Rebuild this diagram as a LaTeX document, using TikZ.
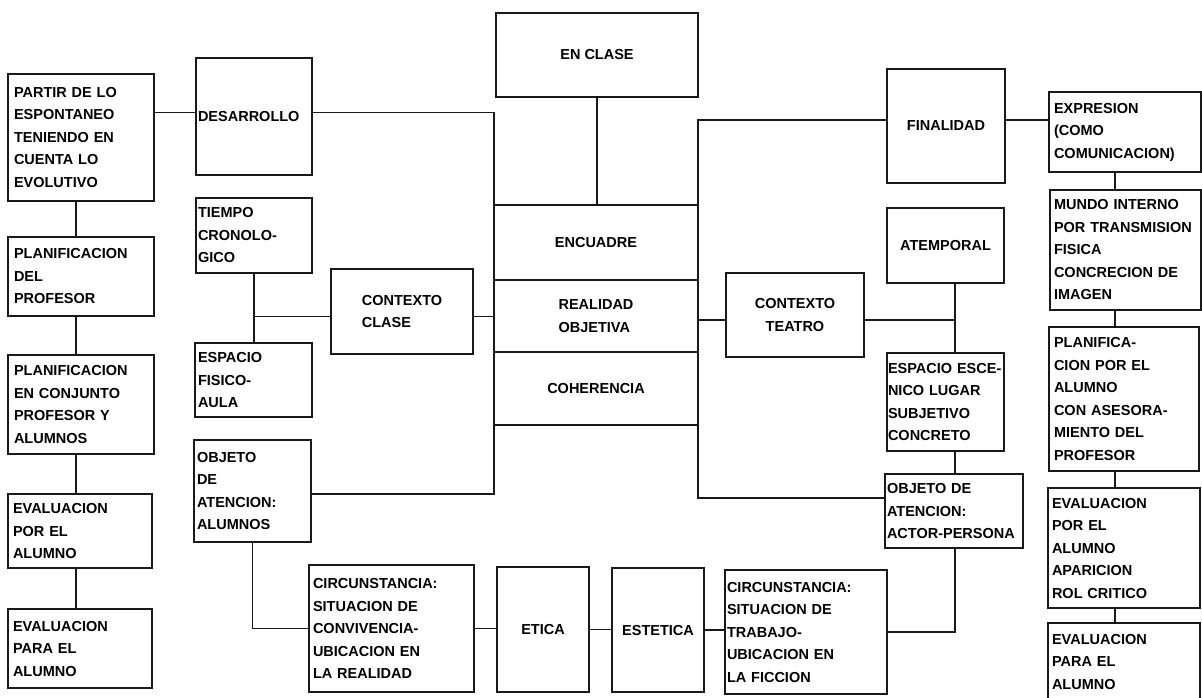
\documentclass[tikz,border=0pt]{standalone}
\usepackage{fontspec}
\setmainfont{Liberation Sans}
\tikzset{
  caja/.style={draw=black!90, line width=1.8pt, inner sep=0pt, outer sep=0pt,
    text=black, font=\bfseries\fontsize{14.5}{22.5}\selectfont},
  linea/.style={draw=black!90, line width=1.8pt}
}

\begin{document}
\begin{tikzpicture}[x=1pt,y=-1pt]
  \useasboundingbox (0,0) rectangle (1202,697);
  % boxes with text set from the left edge
  \foreach \nombre/\xa/\ya/\xb/\yb/\margen/\texto in {
      partir/8/74/154/201/6/{PARTIR DE LO\\ESPONTANEO\\TENIENDO EN\\CUENTA LO\\EVOLUTIVO},
      planprof/8/237/154/316/6/{PLANIFICACION\\DEL\\PROFESOR},
      planconj/8/355/154/454/6/{PLANIFICACION\\EN CONJUNTO\\PROFESOR Y\\ALUMNOS},
      evalpor/8/494/152/568/5/{EVALUACION\\POR EL\\ALUMNO},
      evalpara/8/609/152/688/5/{EVALUACION\\PARA EL\\ALUMNO},
      desarrollo/196/58/312/175/2/{DESARROLLO},
      tiempo/196/198/312/273/2/{TIEMPO\\CRONOLO-\\GICO},
      espfis/195/343/312/417/3/{ESPACIO\\FISICO-\\AULA},
      objalu/194/440/311/542/3/{OBJETO\\DE\\ATENCION:\\ALUMNOS},
      circonv/309/565/474/692/4/{CIRCUNSTANCIA:\\SITUACION DE\\CONVIVENCIA-\\UBICACION EN\\LA REALIDAD},
      trabajo/725/570/887/694/2/{CIRCUNSTANCIA:\\SITUACION DE\\TRABAJO-\\UBICACION EN\\LA FICCION},
      espesc/887/353/1004/451/1/{ESPACIO ESCE-\\NICO LUGAR\\SUBJETIVO\\CONCRETO},
      objactor/885/474/1023/548/2/{OBJETO DE\\ATENCION:\\ACTOR-PERSONA},
      expresion/1049/92/1201/172/5/{EXPRESION\\(COMO\\COMUNICACION)},
      mundo/1050/190/1201/310/4/{MUNDO INTERNO\\POR TRANSMISION\\FISICA\\CONCRECION DE\\IMAGEN},
      planalu/1049/327/1199/471/5/{PLANIFICA-\\CION POR EL\\ALUMNO\\CON ASESORA-\\MIENTO DEL\\PROFESOR},
      evalpor2/1048/488/1200/608/4/{EVALUACION\\POR EL\\ALUMNO\\APARICION\\ROL CRITICO},
      evalpara2/1048/623/1200/700/4/{EVALUACION\\PARA EL\\ALUMNO}}
  {
    \pgfmathsetmacro{\ancho}{\xb-\xa}
    \pgfmathsetmacro{\alto}{\yb-\ya}
    \pgfmathsetmacro{\anchotexto}{\xb-\xa-2*\margen}
    \node[caja, inner xsep=\margen pt, minimum width=\ancho pt, minimum height=\alto pt,
      text width=\anchotexto pt, align=left]
      (\nombre) at ({(\xa+\xb)/2},{(\ya+\yb)/2}) {\texto};
  }
  % boxes with the text in the middle
  \foreach \nombre/\xa/\ya/\xb/\yb/\alin/\texto in {
      enclase/496/13/698/97/center/{EN CLASE},
      encuadre/494/205/698/280/center/{ENCUADRE},
      realidad/494/280/698/352/left/{REALIDAD\\OBJETIVA},
      coherencia/494/352/698/425/center/{COHERENCIA},
      ctxclase/331/269/473/354/left/{CONTEXTO\\CLASE},
      ctxteatro/726/273/864/357/center/{CONTEXTO\\TEATRO},
      finalidad/887/69/1005/183/center/{FINALIDAD},
      atemporal/887/208/1004/283/center/{ATEMPORAL},
      etica/497/567/589/692/center/{ETICA},
      estetica/612/568/704/692/center/{ESTETICA}}
  {
    \pgfmathsetmacro{\ancho}{\xb-\xa}
    \pgfmathsetmacro{\alto}{\yb-\ya}
    \node[caja, minimum width=\ancho pt, minimum height=\alto pt, align=\alin]
      (\nombre) at ({(\xa+\xb)/2},{(\ya+\yb)/2}) {\texto};
  }
  \coordinate (ejeizq) at (76,0);
  \coordinate (ejeteatro) at (955,0);
  \coordinate (ejeder) at (1115,0);
  % left column
  \foreach \a/\b in {partir/planprof, planprof/planconj, planconj/evalpor, evalpor/evalpara}
    \draw[linea] (\a.south -| ejeizq) -- (\b.north -| ejeizq);
  \draw[linea] ([yshift=4pt]desarrollo.west) -- ([yshift=4pt]desarrollo.west -| partir.east);
  % class side
  \draw[linea] ([yshift=4pt]desarrollo.east) -| (coherencia.south west) |- ([yshift=-3pt]objalu.east);
  \draw[linea] (tiempo.south) -- (tiempo.south |- espfis.north);
  \draw[linea] ([yshift=-5pt]ctxclase.west) -- ([yshift=-5pt]ctxclase.west -| tiempo.south);
  \draw[linea] ([yshift=-5pt]ctxclase.east) -- ([yshift=-5pt]ctxclase.east -| realidad.west);
  \draw[linea] (enclase.south) -- (enclase.south |- encuadre.north);
  \draw[linea] (objalu.south) |- (circonv.west);
  \foreach \a/\b in {circonv/etica, etica/estetica, estetica/trabajo}
    \draw[linea] (\a.east) -- (\a.east -| \b.west);
  % theatre side
  \draw[linea] ([yshift=6pt]finalidad.west) -| (coherencia.south east) |- ([yshift=13pt]objactor.west);
  \draw[linea] ([yshift=6pt]finalidad.east) -- ([yshift=6pt]finalidad.east -| expresion.west);
  \draw[linea] ([yshift=-5pt]ctxteatro.west) -- ([yshift=-5pt]ctxteatro.west -| realidad.east);
  \draw[linea] ([yshift=-5pt]ctxteatro.east) -- ([yshift=-5pt]ctxteatro.east -| ejeteatro);
  \draw[linea] (atemporal.south -| ejeteatro) -- (espesc.north -| ejeteatro);
  \draw[linea] (espesc.south -| ejeteatro) -- (objactor.north -| ejeteatro);
  \draw[linea] (objactor.south -| ejeteatro) |- (trabajo.east);
  % right column
  \foreach \a/\b in {expresion/mundo, mundo/planalu, planalu/evalpor2, evalpor2/evalpara2}
    \draw[linea] (\a.south -| ejeder) -- (\b.north -| ejeder);
\end{tikzpicture}
\end{document}
